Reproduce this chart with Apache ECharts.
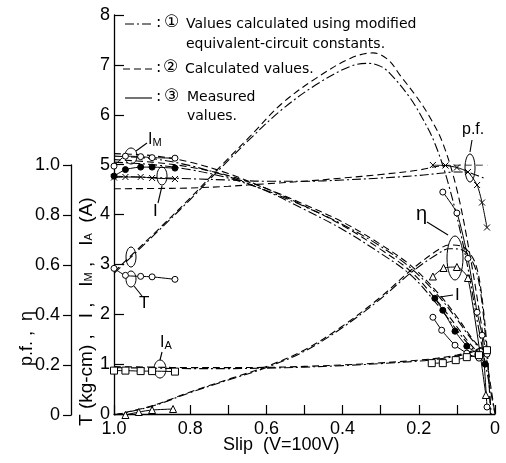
<!DOCTYPE html>
<html><head><meta charset="utf-8">
<script src="https://cdn.jsdelivr.net/npm/echarts@6/dist/echarts.min.js"></script>
<style>html,body{margin:0;padding:0;background:#fff}#c{width:506px;height:463px}</style>
</head><body><div id="c"></div>
<script>
// ---------- tick labels ----------
const xTickValues = [1.0, 0.8, 0.6, 0.4, 0.2, 0];
const xTickLabels = ['1.0', '0.8', '0.6', '0.4', '0.2', '0'];
const pfTickValues = [0, 0.2, 0.4, 0.6, 0.8, 1.0];
const pfTickLabels = ['0', '0.2', '0.4', '0.6', '0.8', '1.0'];

// ---------- torque T (kg-cm) [slip, value] ----------
const tCalc1 = [[1.0,2.82],[0.9,3.55],[0.8,4.3],[0.72,4.93],[0.645,5.5],[0.56,6.1],[0.47,6.6],[0.38,6.97],[0.33,7.03],[0.3,6.97],[0.276,6.83],[0.224,6.35],[0.192,5.95],[0.158,5.43],[0.12,4.55],[0.079,3.23],[0.045,1.8],[0.025,1.0],[0,0]];
const tCalc2 = [[1.0,2.85],[0.9,3.58],[0.8,4.33],[0.72,4.97],[0.645,5.55],[0.56,6.22],[0.47,6.73],[0.38,7.13],[0.32,7.24],[0.28,7.1],[0.25,6.8],[0.205,6.35],[0.171,5.95],[0.137,5.43],[0.1,4.5],[0.066,3.2],[0.04,2.0],[0.02,1.0],[0,0]];
const tMeasL = [[1.0,2.92],[0.97,2.78],[0.93,2.76],[0.9,2.75],[0.84,2.7]];
const tMeasR = [[0.137,4.45],[0.1,4.03],[0.071,3.12],[0.047,2.04],[0.034,1.58],[0.021,0.14]];

// ---------- main-winding current IM (A) ----------
const imCalc1 = [[1.0,5.17],[0.9,5.12],[0.8,4.98],[0.7,4.76],[0.6,4.47],[0.5,4.1],[0.4,3.7],[0.3,3.22],[0.22,2.78],[0.15,2.18],[0.1,1.68],[0.07,1.4],[0.05,1.25],[0.035,1.18]];
const imCalc2 = [[1.0,5.22],[0.9,5.18],[0.8,5.05],[0.7,4.82],[0.6,4.52],[0.5,4.17],[0.4,3.78],[0.3,3.3],[0.22,2.85],[0.15,2.25],[0.1,1.75],[0.07,1.45],[0.05,1.28],[0.035,1.2]];
const imMeasL = [[1.0,4.97],[0.97,5.17],[0.93,5.16],[0.9,5.14],[0.84,5.13]];
const imMeasR = [[0.163,1.94],[0.14,1.68],[0.105,1.38],[0.074,1.22],[0.042,1.12],[0.021,1.2]];

// ---------- line current I (A) ----------
const iCalc1 = [[1.0,5.05],[0.9,5.0],[0.8,4.9],[0.7,4.73],[0.6,4.48],[0.5,4.16],[0.4,3.8],[0.3,3.36],[0.22,2.92],[0.15,2.38],[0.1,1.9],[0.07,1.58],[0.05,1.4],[0.035,1.3]];
const iCalc2 = [[1.0,5.1],[0.9,5.05],[0.8,4.95],[0.7,4.78],[0.6,4.52],[0.5,4.2],[0.4,3.85],[0.3,3.4],[0.22,2.97],[0.15,2.43],[0.1,1.95],[0.07,1.62],[0.05,1.42],[0.035,1.32]];
const iMeasL = [[1.0,4.77],[0.97,4.9],[0.93,4.95],[0.9,4.95],[0.84,4.93]];
const iMeasR = [[0.158,2.32],[0.137,2.08],[0.105,1.66],[0.074,1.36],[0.045,1.2],[0.026,1.0]];

// ---------- auxiliary-winding current IA (A) ----------
const iaCalc1 = [[1.0,0.93],[0.9,0.92],[0.8,0.91],[0.7,0.91],[0.6,0.92],[0.5,0.94],[0.4,0.97],[0.3,1.01],[0.2,1.06],[0.15,1.1],[0.1,1.16],[0.07,1.22],[0.05,1.27],[0.035,1.32]];
const iaCalc2 = [[1.0,0.95],[0.9,0.94],[0.8,0.93],[0.7,0.93],[0.6,0.935],[0.5,0.955],[0.4,0.985],[0.3,1.025],[0.2,1.08],[0.15,1.12],[0.1,1.18],[0.07,1.24],[0.05,1.29],[0.035,1.34]];
const iaMeasL = [[1.0,0.87],[0.97,0.87],[0.93,0.86],[0.9,0.86],[0.84,0.85]];
const iaMeasR = [[0.166,1.02],[0.137,1.02],[0.103,1.08],[0.074,1.14],[0.042,1.18],[0.021,1.28]];

// ---------- power factor p.f. ----------
const pfCalc1 = [[1.0,0.955],[0.9,0.95],[0.8,0.945],[0.7,0.94],[0.6,0.935],[0.5,0.935],[0.4,0.94],[0.3,0.948],[0.2,0.958],[0.15,0.966],[0.1,0.972],[0.07,0.97],[0.05,0.96],[0.03,0.948]];
const pfCalc2 = [[1.0,0.905],[0.9,0.906],[0.8,0.908],[0.7,0.915],[0.6,0.925],[0.5,0.935],[0.4,0.948],[0.3,0.962],[0.2,0.98],[0.15,0.995],[0.1,1.0],[0.05,1.0],[0.02,1.0]];
const pfMeasL = [[1.0,0.95],[0.97,0.952],[0.93,0.952],[0.9,0.948],[0.84,0.944]];
const pfMeasR = [[0.163,1.0],[0.13,0.998],[0.1,0.99],[0.071,0.972],[0.047,0.92],[0.034,0.85],[0.021,0.75]];

// ---------- efficiency η ----------
const etaCalc1 = [[1.0,0.0],[0.9,0.035],[0.8,0.09],[0.7,0.14],[0.6,0.19],[0.5,0.255],[0.4,0.35],[0.3,0.465],[0.22,0.57],[0.15,0.645],[0.12,0.665],[0.09,0.662],[0.07,0.64],[0.05,0.58],[0.035,0.46],[0.02,0.22],[0.01,0.0]];
const etaCalc2 = [[1.0,0.0],[0.9,0.037],[0.8,0.092],[0.7,0.143],[0.6,0.194],[0.5,0.26],[0.4,0.356],[0.3,0.472],[0.22,0.58],[0.15,0.66],[0.12,0.68],[0.09,0.676],[0.07,0.655],[0.05,0.6],[0.035,0.48],[0.02,0.25],[0.012,0.0]];
const etaMeasL = [[0.97,0.0],[0.935,0.012],[0.9,0.02],[0.845,0.024]];
const etaMeasR = [[0.163,0.554],[0.135,0.588],[0.1,0.592],[0.071,0.548],[0.024,0.08]];

// ---------- styles ----------
const DASHDOT = [9,3,2,3];
const DASHED = [7,4];
const FONT = 'Liberation Sans';
const LFONT = 'DejaVu Sans';
const XMARK = 'path://M0,0L10,10M10,0L0,10';

function calc(data, dash, g) {
  return {type:'line', data:data, xAxisIndex:g, yAxisIndex:g, smooth:0.35, symbol:'none', silent:true,
    lineStyle:{color:'#000', width:1.1, type:dash}, z:2};
}
function meas(data, symbol, fill, g, size) {
  return {type:'line', data:data, xAxisIndex:g, yAxisIndex:g, smooth:0.2, symbol:symbol, symbolSize:size||6, showAllSymbol:true, silent:true,
    lineStyle:{color:'#000', width:1}, itemStyle:{color:fill, borderColor:'#000', borderWidth:1}, z:3};
}

const series = [
  calc(tCalc1, DASHDOT, 0), calc(tCalc2, DASHED, 0),
  meas(tMeasL, 'circle', '#fff', 0), meas(tMeasR, 'circle', '#fff', 0),
  calc(imCalc1, DASHDOT, 0), calc(imCalc2, DASHED, 0),
  meas(imMeasL, 'circle', '#fff', 0), meas(imMeasR, 'circle', '#fff', 0),
  calc(iCalc1, DASHDOT, 0), calc(iCalc2, DASHED, 0),
  meas(iMeasL, 'circle', '#000', 0), meas(iMeasR, 'circle', '#000', 0),
  calc(iaCalc1, DASHDOT, 0), calc(iaCalc2, DASHED, 0),
  meas(iaMeasL, 'rect', '#fff', 0, 7), meas(iaMeasR, 'rect', '#fff', 0, 7),
  calc(pfCalc1, DASHDOT, 1), calc(pfCalc2, DASHED, 1),
  meas(pfMeasL, XMARK, '#000', 1, 6), meas(pfMeasR, XMARK, '#000', 1, 6),
  calc(etaCalc1, DASHDOT, 1), calc(etaCalc2, DASHED, 1),
  meas(etaMeasL, 'triangle', '#fff', 1, 7), meas(etaMeasR, 'triangle', '#fff', 1, 7)
];

function lbl(v, values, labels) {
  for (let i = 0; i < values.length; i++) if (Math.abs(values[i] - v) < 1e-6) return labels[i];
  return '';
}

const txt = (x, y, text, size, fam) => ({type:'text', x:x, y:y, style:{text:text, fill:'#000', font: size + 'px "' + (fam || FONT) + '"'}});
const ln = (x1, y1, x2, y2, dash) => ({type:'line', shape:{x1:x1,y1:y1,x2:x2,y2:y2}, style:{stroke:'#000', lineWidth:1.1, lineDash:dash || null}});
const ell = (cx, cy, rx, ry) => ({type:'ellipse', shape:{cx:cx, cy:cy, rx:rx, ry:ry}, style:{stroke:'#000', fill:null, lineWidth:1}});
const subRich = {s:{fontSize:11, fontFamily:FONT, fill:'#000', padding:[5,0,0,0]}};

const graphic = [
  // legend
  ln(125, 24, 154, 24, DASHDOT), txt(156, 15, ':', 16, LFONT), txt(164, 14, '\u2460', 17, LFONT), txt(186, 17, 'Values calculated using modified', 14, LFONT), txt(186, 37, 'equivalent-circuit constants.', 14, LFONT),
  ln(123, 69, 153, 69, DASHED), txt(156, 60, ':', 16, LFONT), txt(163, 59, '\u2461', 17, LFONT), txt(185, 62, 'Calculated values.', 14, LFONT),
  ln(125, 98, 152, 98), txt(156, 89, ':', 16, LFONT), txt(164, 88, '\u2462', 17, LFONT), txt(187, 90, 'Measured', 14, LFONT), txt(187, 109, 'values.', 14, LFONT),
  // axis titles
  {type:'text', x:18, y:366, rotation:Math.PI/2, style:{text:'p.f. ,  \u03b7', fill:'#000', font:'18px "' + FONT + '"'}},
  {type:'text', x:77, y:426, rotation:Math.PI/2, style:{text:'T (kg-cm) ,   I ,   I{s|M} ,   I{s|A}  (A)', fill:'#000', font:'19px "' + FONT + '"', rich:subRich}},
  txt(223, 436, 'Slip  (V=100V)', 18),
  // curve labels
  {type:'text', x:148, y:132, style:{text:'I{s|M}', fill:'#000', font:'16px "' + FONT + '"', rich:subRich}},
  ln(147, 143, 136, 151), ell(131, 156, 6, 8),
  txt(153, 203, 'I', 17), ln(158, 203, 162, 186), ell(162, 176, 5, 9),
  txt(139, 295, 'T', 17), ln(142, 296, 134, 286), ell(131, 279, 5, 8), ell(131, 257, 5, 10),
  {type:'text', x:160, y:335, style:{text:'I{s|A}', fill:'#000', font:'16px "' + FONT + '"', rich:subRich}},
  ln(162, 352, 160, 360), ell(160, 369, 6, 9),
  txt(462, 122, 'p.f.', 16), ln(472, 140, 470, 152), ell(470, 168, 5, 14),
  txt(416, 204, '\u03b7', 20), ln(427, 222, 448, 235), ell(455, 258, 8, 22),
  txt(455, 287, 'I', 17), ln(453, 295, 440, 297)
];

const chart = echarts.init(document.getElementById('c'), null, {renderer:'canvas'});
chart.setOption({
  animation:false,
  backgroundColor:'#fff',
  grid:[{left:114, right:11, top:15, bottom:49}, {left:114, right:11, top:165, bottom:48}],
  xAxis:[
    {type:'value', gridIndex:0, min:0, max:1, interval:0.1, inverse:true, position:'bottom',
     axisLine:{onZero:false, lineStyle:{color:'#000', width:1.3}}, axisTick:{inside:true, length:9, lineStyle:{color:'#000', width:1.2}},
     splitLine:{show:false},
     axisLabel:{color:'#000', fontSize:18, fontFamily:FONT, margin:6, formatter:v => lbl(v, xTickValues, xTickLabels)}},
    {type:'value', gridIndex:1, min:0, max:1, inverse:true, show:false, axisLine:{onZero:false}}
  ],
  yAxis:[
    {type:'value', gridIndex:0, min:0, max:8, interval:1, position:'left',
     axisLine:{show:true, onZero:false, lineStyle:{color:'#000', width:1.3}}, axisTick:{show:true, inside:true, length:10, lineStyle:{color:'#000', width:1.2}},
     splitLine:{show:false},
     axisLabel:{color:'#000', fontSize:18, fontFamily:FONT, margin:4}},
    {type:'value', gridIndex:1, min:0, max:1, interval:0.2, offset:43, position:'left',
     axisLine:{show:true, onZero:false, lineStyle:{color:'#000', width:1.3}}, axisTick:{show:true, inside:false, length:8, lineStyle:{color:'#000', width:1.2}},
     splitLine:{show:false},
     axisLabel:{color:'#000', fontSize:18, fontFamily:FONT, margin:11, formatter:v => lbl(v, pfTickValues, pfTickLabels)}}
  ],
  series:series,
  graphic:graphic
});
</script></body></html>
